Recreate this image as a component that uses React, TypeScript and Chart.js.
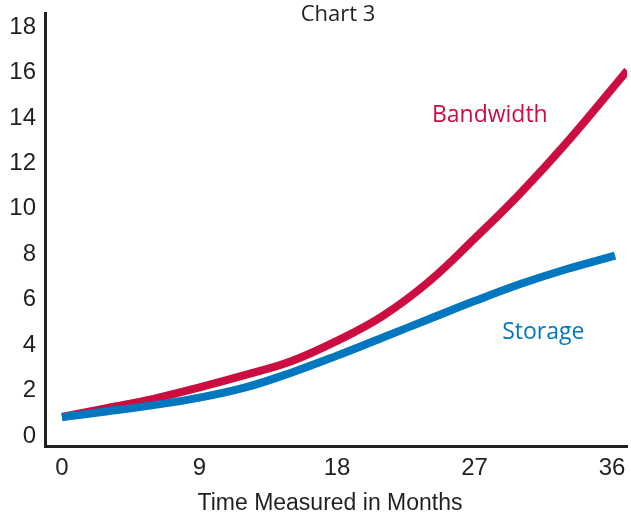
import React, { useEffect, useRef } from "react";
import { Chart, registerables } from "chart.js";

Chart.register(...registerables);

const xTickValues = [0, 9, 18, 27, 36];
const yTickValues = [0, 2, 4, 6, 8, 10, 12, 14, 16, 18];

const bandwidthMonths = [0, 3, 6, 9, 12, 15, 18, 21, 24, 27, 30, 33, 37];
const bandwidthValues = [0.75, 1.15, 1.55, 2.05, 2.6, 3.2, 4.1, 5.2, 6.7, 8.6, 10.6, 12.8, 16.0];

const storageMonths = [0, 3, 6, 9, 12, 15, 18, 21, 24, 27, 30, 33, 36.2];
const storageValues = [0.75, 1.0, 1.27, 1.6, 2.05, 2.7, 3.45, 4.25, 5.05, 5.85, 6.6, 7.25, 7.85];

const RED = "#CB0D40";
const BLUE = "#0077BF";
const AXIS = "#231F20";

const textPlugin = {
  id: "textPlugin",
  afterDraw(chart: any) {
    const ctx = chart.ctx;
    const xs = chart.scales.x;
    const ys = chart.scales.y;
    ctx.save();
    ctx.textAlign = "center";
    ctx.textBaseline = "middle";
    ctx.fillStyle = AXIS;
    ctx.font = "22px 'Open Sans'";
    ctx.fillText("Chart 3", 338, 15);
    ctx.font = "23px 'Liberation Sans'";
    ctx.fillText("Time Measured in Months", 330, 504);
    ctx.font = "23px 'Open Sans'";
    ctx.fillStyle = RED;
    ctx.fillText("Bandwidth", xs.getPixelForValue(28.0), ys.getPixelForValue(14.0));
    ctx.fillStyle = BLUE;
    ctx.fillText("Storage", xs.getPixelForValue(31.5), ys.getPixelForValue(4.45));
    ctx.restore();
  },
};

export default function App() {
  const ref = useRef<HTMLCanvasElement>(null);
  useEffect(() => {
    if (!ref.current) return;
    const chart = new Chart(ref.current, {
      type: "line",
      data: {
        datasets: [
          {
            label: "Storage",
            data: storageMonths.map((m, i) => ({ x: m, y: storageValues[i] })),
            borderColor: BLUE,
            borderWidth: 8,
            pointRadius: 0,
            tension: 0.4,
            borderCapStyle: "butt",
          },
          {
            label: "Bandwidth",
            data: bandwidthMonths.map((m, i) => ({ x: m, y: bandwidthValues[i] })),
            borderColor: RED,
            borderWidth: 8,
            pointRadius: 0,
            tension: 0.4,
            borderCapStyle: "butt",
          },
        ],
      },
      options: {
        animation: false,
        responsive: false,
        maintainAspectRatio: false,
        layout: { padding: { top: 13, right: 4, left: 0, bottom: 0 } },
        plugins: { legend: { display: false }, tooltip: { enabled: false }, title: { display: false } },
        scales: {
          x: {
            type: "linear",
            min: -1.113,
            max: 36.98,
            grid: { display: false, drawTicks: false },
            border: { display: true, color: AXIS, width: 3 },
            afterBuildTicks: (s: any) => {
              s.ticks = xTickValues.map((v) => ({ value: v }));
            },
            afterFit: (s: any) => {
              s.height = 72;
              s.paddingLeft = 0;
              s.paddingRight = 0;
            },
            ticks: {
              autoSkip: false,
              maxRotation: 0,
              padding: 8,
              color: AXIS,
              font: { family: "'Liberation Sans'", size: 24 },
            },
          },
          y: {
            type: "linear",
            min: -0.528,
            max: 18.53,
            grid: { display: false, drawTicks: false },
            border: { display: true, color: AXIS, width: 3 },
            afterBuildTicks: (s: any) => {
              s.ticks = yTickValues.map((v) => ({ value: v }));
            },
            afterFit: (s: any) => {
              s.width = 45;
              s.paddingTop = 0;
              s.paddingBottom = 0;
            },
            ticks: {
              autoSkip: false,
              padding: 9,
              labelOffset: 2,
              color: AXIS,
              font: { family: "'Liberation Sans'", size: 24 },
            },
          },
        },
      },
      plugins: [textPlugin],
    });
    return () => chart.destroy();
  }, []);
  return (
    <div style={{ position: "fixed", left: 0, top: 0, width: 631, height: 518, background: "#fff" }}>
      <canvas ref={ref} width={631} height={518} style={{ width: 631, height: 518 }} />
    </div>
  );
}
